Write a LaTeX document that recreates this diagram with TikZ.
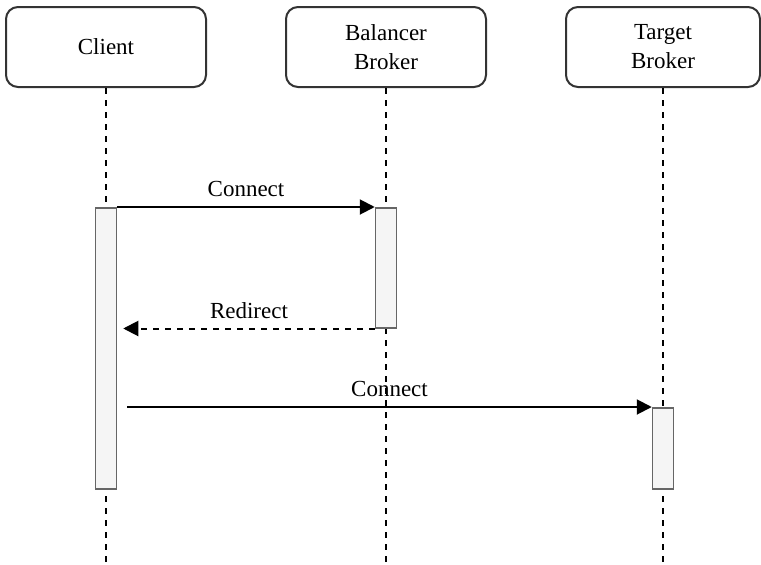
\documentclass[tikz,border=0pt]{standalone}
\usepackage{fontspec}
\setmainfont{Liberation Serif}
\usepackage{tikz}
\usetikzlibrary{positioning, arrows.meta}
\definecolor{barfill}{HTML}{F5F5F5}
\definecolor{bargray}{HTML}{666666}
\definecolor{boxline}{HTML}{333333}

\begin{document}
\begin{tikzpicture}[x=1pt, y=-1pt, node distance=280pt,
    head/.style={draw=boxline, line width=2pt, rounded corners=12pt, minimum width=200pt, minimum height=80pt, align=center, font=\fontsize{23}{29}\selectfont},
    bar/.style={draw=bargray, fill=barfill, line width=1.5pt, minimum width=21pt, inner sep=0pt, anchor=north},
    life/.style={line width=2pt, dash pattern=on 6pt off 6pt},
    msg/.style={line width=2pt, -{Triangle[length=15pt,width=15pt]}},
    lbl/.style={above=9pt, inner sep=0pt, font=\fontsize{23}{29}\selectfont}]
      \useasboundingbox (0,0) rectangle (761,565);
      % nodes %
      \node[head] (client) at (106,47) {Client};
      \node[head, right of = client] (bal) {Balancer\\Broker};
      \node[head, right of = bal, xshift=-3pt, minimum width=194pt] (tgt) {Target\\Broker};
      \coordinate (bottom) at (0,565);
      \coordinate (t1) at (0,207);
      \coordinate (t3) at (0,407);
      % lifelines %
      \draw[life] (client.south) -- (client |- bottom);
      \draw[life] (bal.south) -- (bal |- bottom);
      \draw[life] (tgt.south) -- (tgt |- bottom);
      % activations %
      \node[bar, minimum height=281pt] (cbar) at (client |- t1) {};
      \node[bar, minimum height=120pt] (bbar) at (bal |- t1) {};
      \node[bar, minimum height=81pt] (tbar) at (tgt |- t3) {};
      \coordinate (rend) at ([xshift=6pt]cbar.east |- bbar.south);
      \coordinate (cstart) at ([xshift=10pt]cbar.east |- tbar.north);
      % edges %
      \draw[msg] (cbar.north east) -- node[lbl] {Connect} (bbar.north west);
      \draw[msg, dash pattern=on 6pt off 6pt] (bbar.south west) -- node[lbl] {Redirect} (rend);
      \draw[msg] (cstart) -- node[lbl] {Connect} (tbar.north west);
\end{tikzpicture}
\end{document}
